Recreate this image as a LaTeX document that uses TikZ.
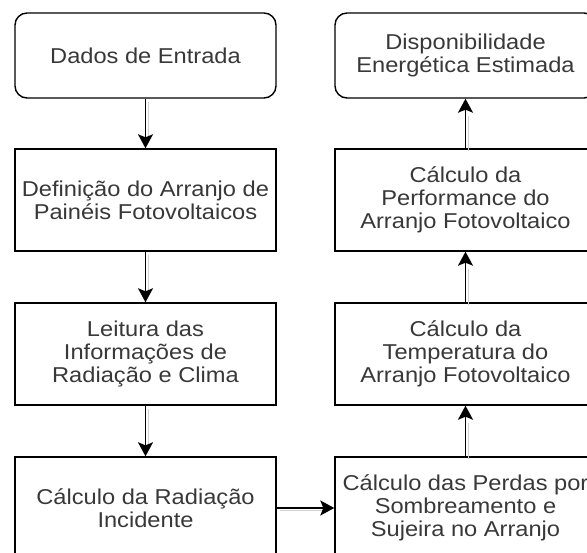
\documentclass[tikz,border=0pt]{standalone}
\usepackage{fontspec}
\setmainfont{Liberation Sans}[FakeStretch=1.1]
\usetikzlibrary{arrows.meta}
\tikzset{
  box/.style={draw=black, line width=1.4pt, minimum width=261pt, minimum height=102pt,
    align=center, inner sep=1pt, text=black!78,
    font=\fontsize{21.5}{23.3}\selectfont},
  startbox/.style={box, rounded corners=12pt, minimum height=85pt},
  conn/.style={line width=1.5pt, -{Stealth[length=14pt,width=15pt,inset=3pt]},
    preaction={draw=black!18, line width=1pt, -, shorten >=14pt,
      transform canvas={shift={(3pt,-3pt)}}}}
}
\begin{document}
\begin{tikzpicture}[x=1pt,y=-1pt]
\useasboundingbox (0,0) rectangle (587,553);
\node[startbox] (n1) at (145.5,55.5) {Dados de Entrada};
\node[box] (n2) at (145.5,200) {Definição do Arranjo de\\Painéis Fotovoltaicos};
\node[box] (n3) at (145.5,354) {Leitura das\\Informações de\\Radiação e Clima};
\node[box] (n4) at (145.5,508) {Cálculo da Radiação\\Incidente};
\node[startbox] (r1) at (465.5,55.5) {Disponibilidade\\Energética Estimada};
\node[box] (r2) at (465.5,200) {Cálculo da\\Performance do\\Arranjo Fotovoltaico};
\node[box] (r3) at (465.5,354) {Cálculo da\\Temperatura do\\Arranjo Fotovoltaico};
\node[box] (r4) at (465.5,508) {Cálculo das Perdas por\\Sombreamento e\\Sujeira no Arranjo};
\draw[conn] (n1) -- (n2);
\draw[conn] (n2) -- (n3);
\draw[conn] (n3) -- (n4);
\draw[conn] (n4) -- (r4);
\draw[conn] (r4) -- (r3);
\draw[conn] (r3) -- (r2);
\draw[conn] (r2) -- (r1);
\end{tikzpicture}
\end{document}
